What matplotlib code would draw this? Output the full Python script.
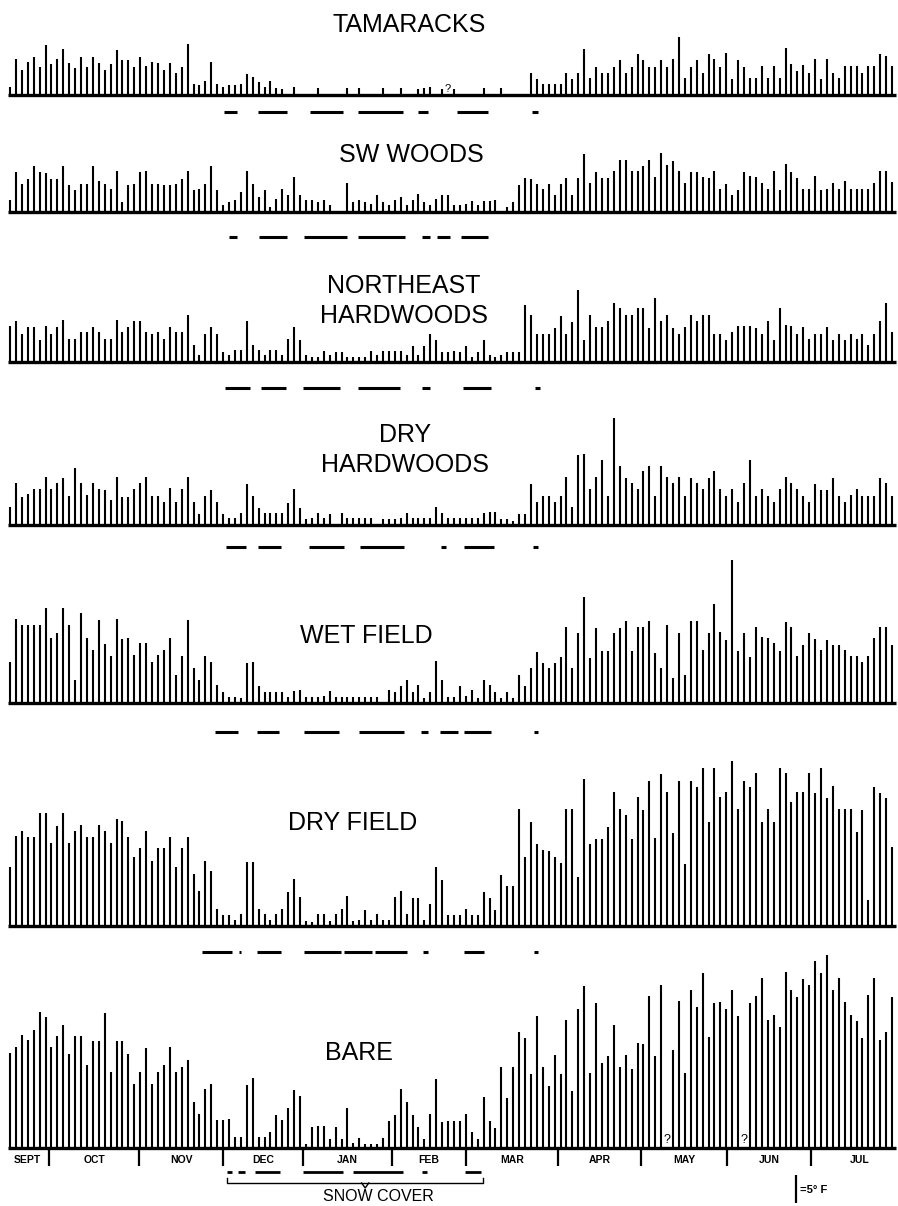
import numpy as np
import matplotlib
matplotlib.use('Agg')
import matplotlib.pyplot as plt

plt.rcParams['font.family'] = ['Liberation Sans', 'DejaVu Sans']

# bar heights in deg F, one bar per observation (150 per station)
tamaracks = [
    1.5, 6.5, 4.5, 6.0, 6.8, 5.0, 9.0, 5.5, 6.5, 8.2,
    5.8, 4.8, 6.8, 5.0, 6.8, 5.8, 4.5, 5.5, 8.0, 6.2,
    6.2, 5.0, 6.8, 5.2, 6.0, 5.8, 4.5, 5.8, 4.0, 5.0,
    9.1, 2.0, 1.8, 2.5, 6.0, 2.0, 1.5, 1.8, 1.8, 2.0,
    3.8, 3.2, 2.4, 1.5, 2.5, 1.2, 1.0, 0, 1.4, 0,
    0, 0, 1.3, 0, 0, 0, 0, 1.3, 0, 1.3,
    0, 0, 0, 1.3, 0, 0, 1.3, 0, 0, 1.0,
    1.2, 1.4, 0, 1.0, 0, 1.0, 0, 0, 0, 0,
    1.2, 0, 0, 1.2, 0, 0, 0, 0, 4.0, 2.8,
    1.9, 2.0, 2.0, 1.9, 4.0, 2.8, 4.0, 8.3, 3.0, 5.1,
    4.0, 4.0, 5.0, 6.2, 4.0, 5.0, 7.3, 6.2, 5.0, 5.0,
    6.2, 5.0, 6.4, 10.4, 3.0, 5.0, 6.2, 4.0, 7.3, 6.4,
    5.0, 7.6, 2.8, 6.2, 5.0, 3.0, 3.0, 5.2, 3.0, 5.2,
    3.0, 8.5, 5.6, 4.3, 5.4, 4.0, 6.4, 2.8, 6.4, 4.0,
    3.1, 5.2, 5.2, 5.2, 4.0, 5.2, 5.2, 7.4, 7.0, 5.2]

sw_woods = [
    2.1, 7.1, 5.1, 6.0, 8.2, 7.1, 7.0, 6.0, 6.0, 8.2,
    4.8, 3.9, 5.1, 5.1, 8.2, 5.6, 5.1, 4.2, 7.3, 1.8,
    4.8, 5.1, 7.1, 7.3, 5.1, 5.1, 4.8, 4.8, 5.1, 6.0,
    7.3, 3.9, 4.2, 5.1, 8.3, 4.0, 1.2, 1.8, 2.1, 3.6,
    7.3, 5.1, 2.7, 4.0, 0.9, 2.4, 4.2, 3.0, 6.3, 3.0,
    2.1, 2.1, 1.8, 2.1, 1.2, 0, 0, 5.2, 1.8, 2.1,
    1.8, 1.5, 3.0, 1.8, 1.2, 2.1, 2.7, 1.2, 2.1, 3.3,
    1.8, 1.2, 2.4, 3.0, 3.0, 1.2, 1.2, 1.5, 2.0, 1.2,
    2.0, 2.0, 2.1, 0, 0.9, 1.8, 4.9, 6.1, 6.0, 5.1,
    4.2, 5.1, 3.1, 5.1, 6.1, 3.0, 6.1, 10.4, 5.2, 7.1,
    6.1, 6.1, 7.3, 9.3, 9.3, 7.3, 7.3, 8.3, 9.3, 6.2,
    10.5, 8.5, 9.2, 7.3, 5.2, 7.1, 7.1, 6.2, 6.1, 7.3,
    4.2, 5.1, 3.0, 4.0, 7.1, 6.4, 6.2, 5.2, 4.2, 7.3,
    4.0, 8.6, 7.1, 6.1, 4.2, 4.2, 6.4, 4.0, 4.2, 5.2,
    4.2, 5.5, 4.2, 4.2, 4.2, 4.2, 5.2, 7.3, 7.3, 5.4]

ne_hardwoods = [
    6.5, 7.3, 5.1, 6.3, 6.3, 3.9, 6.5, 5.1, 6.3, 7.5,
    4.2, 4.2, 5.3, 5.3, 6.3, 5.3, 4.2, 4.2, 7.5, 5.3,
    6.3, 7.3, 7.3, 5.3, 5.1, 5.3, 4.2, 6.3, 5.3, 5.3,
    8.4, 3.0, 1.2, 5.1, 6.3, 5.1, 1.8, 1.2, 2.1, 2.1,
    7.3, 3.0, 2.1, 1.2, 2.1, 2.1, 1.2, 4.2, 6.3, 3.9,
    1.2, 0.9, 0.9, 1.9, 1.2, 1.8, 1.8, 0.9, 0.9, 0.9,
    0.9, 1.9, 1.2, 1.9, 1.9, 1.9, 1.9, 1.2, 2.9, 1.2,
    2.9, 5.1, 3.9, 1.8, 1.8, 1.9, 1.8, 2.9, 0.9, 1.8,
    3.9, 1.2, 0.9, 1.2, 1.8, 1.8, 1.8, 10.3, 8.5, 5.1,
    5.1, 5.1, 6.1, 8.2, 5.1, 7.2, 12.9, 3.9, 8.4, 6.3,
    6.3, 7.3, 10.5, 9.6, 8.4, 8.5, 9.6, 9.6, 6.1, 11.5,
    7.3, 8.4, 6.1, 5.1, 6.3, 8.4, 7.3, 8.4, 8.4, 5.1,
    5.1, 3.9, 5.4, 6.5, 6.5, 6.5, 6.1, 5.1, 7.3, 3.9,
    9.6, 6.6, 6.5, 5.1, 6.3, 4.2, 5.1, 5.1, 6.3, 3.9,
    5.1, 3.9, 5.1, 4.2, 5.1, 3.1, 5.1, 7.3, 10.5, 5.3]

dry_hardwoods = [
    3.3, 7.6, 5.1, 5.6, 6.5, 6.5, 8.6, 6.5, 7.5, 8.5,
    5.2, 10.2, 7.5, 5.4, 7.5, 6.4, 6.3, 4.4, 8.6, 5.1,
    5.1, 6.4, 7.5, 8.6, 5.2, 5.2, 4.2, 6.6, 4.2, 6.4,
    8.6, 4.2, 2.0, 5.2, 6.3, 4.2, 2.0, 1.2, 1.2, 2.2,
    7.4, 5.2, 3.1, 2.1, 2.1, 2.1, 2.1, 4.0, 6.4, 3.0,
    1.0, 1.2, 2.1, 1.2, 2.0, 0, 2.2, 1.2, 1.2, 1.2,
    1.2, 1.2, 0, 1.0, 1.0, 1.0, 1.2, 2.1, 1.2, 1.2,
    1.2, 1.2, 3.3, 2.2, 1.2, 1.2, 1.2, 1.2, 1.2, 1.2,
    2.2, 2.4, 2.4, 1.0, 1.0, 0.7, 2.0, 2.0, 7.4, 4.2,
    5.2, 5.2, 4.2, 5.2, 8.6, 3.3, 12.6, 12.8, 6.4, 8.6,
    11.7, 5.2, 19.2, 10.6, 8.4, 7.5, 6.4, 9.6, 10.6, 5.2,
    10.6, 8.6, 7.5, 8.6, 5.2, 8.4, 7.5, 6.4, 8.4, 9.6,
    6.4, 5.2, 6.4, 4.2, 7.5, 11.7, 5.2, 6.4, 5.2, 4.2,
    6.4, 8.6, 7.5, 6.4, 5.2, 4.2, 7.4, 6.3, 6.3, 8.4,
    5.2, 4.2, 5.4, 6.5, 5.2, 5.2, 5.2, 8.4, 7.5, 5.2]

wet_field = [
    7.4, 15.0, 14.0, 14.0, 14.0, 14.0, 17.1, 11.6, 12.6, 17.1,
    14.0, 4.1, 16.2, 11.6, 9.5, 14.9, 10.5, 8.4, 15.0, 11.4,
    11.6, 8.6, 10.7, 10.8, 7.4, 8.6, 9.5, 11.7, 5.1, 8.4,
    14.9, 6.3, 4.2, 8.4, 7.4, 3.2, 2.0, 1.1, 1.1, 0.9,
    7.2, 7.4, 3.0, 2.0, 2.0, 2.0, 2.0, 1.1, 2.2, 2.4,
    1.1, 1.1, 1.1, 1.2, 2.1, 1.1, 1.1, 1.1, 1.1, 1.1,
    1.1, 1.1, 1.1, 0, 2.3, 2.0, 3.0, 4.1, 2.0, 3.2,
    0.9, 2.0, 7.5, 4.1, 1.1, 1.1, 3.0, 1.2, 2.3, 0.9,
    4.1, 3.2, 2.0, 0.9, 2.0, 0.9, 5.1, 3.0, 6.2, 9.2,
    7.2, 6.2, 7.2, 8.3, 13.7, 6.2, 12.6, 19.0, 8.1, 13.5,
    9.3, 9.3, 12.6, 13.5, 14.7, 9.3, 13.7, 13.7, 14.7, 9.0,
    6.2, 14.0, 4.4, 12.5, 5.1, 14.7, 14.7, 9.5, 12.6, 17.8,
    12.8, 11.3, 25.6, 9.3, 12.6, 8.3, 13.7, 11.9, 11.6, 10.7,
    9.3, 14.6, 13.7, 8.4, 10.4, 12.6, 11.4, 9.5, 11.3, 10.4,
    10.4, 9.5, 8.4, 8.4, 7.4, 8.4, 11.6, 13.7, 13.7, 10.4]

dry_field = [
    10.6, 16.1, 17.1, 16.0, 15.9, 20.2, 20.2, 14.8, 17.9, 20.2,
    14.9, 17.1, 18.1, 15.9, 15.9, 18.1, 17.1, 14.8, 19.1, 18.9,
    15.9, 12.4, 13.9, 17.1, 11.7, 13.9, 13.9, 16.0, 10.6, 13.9,
    15.9, 9.4, 6.2, 11.7, 9.8, 3.1, 1.9, 1.9, 1.0, 2.2,
    11.5, 11.5, 3.1, 2.2, 1.0, 2.1, 3.1, 6.1, 8.5, 5.2,
    0.9, 0.7, 2.1, 2.1, 0.9, 2.1, 3.1, 5.3, 0.9, 1.1,
    2.9, 1.0, 2.1, 1.0, 1.1, 5.2, 6.2, 2.1, 5.0, 5.0,
    1.0, 4.0, 10.5, 8.2, 1.9, 1.9, 1.9, 3.1, 1.9, 1.9,
    6.1, 5.0, 2.9, 9.1, 7.1, 7.1, 20.9, 12.4, 18.7, 14.7,
    13.7, 13.5, 12.4, 11.3, 20.9, 20.9, 8.8, 26.3, 14.7, 15.6,
    15.6, 17.8, 24.1, 20.9, 19.9, 15.6, 23.1, 20.8, 26.0, 15.7,
    27.2, 24.1, 16.7, 26.0, 11.2, 26.0, 25.0, 28.4, 18.7, 28.4,
    23.2, 24.1, 29.5, 20.9, 26.0, 25.0, 27.4, 18.7, 20.9, 18.7,
    28.3, 27.5, 22.3, 24.1, 24.1, 27.4, 23.9, 28.4, 22.9, 25.1,
    20.9, 20.9, 20.9, 16.9, 20.8, 4.7, 24.9, 23.8, 22.9, 14.2]

bare = [
    17.1, 18.1, 20.3, 19.3, 21.1, 24.4, 23.5, 18.1, 20.1, 22.1,
    16.9, 20.1, 20.1, 14.9, 19.1, 19.1, 24.2, 13.7, 19.1, 19.1,
    16.9, 11.5, 13.6, 17.9, 11.5, 13.7, 14.8, 18.1, 13.6, 14.6,
    15.8, 8.3, 6.1, 10.5, 11.5, 5.1, 5.1, 5.2, 1.9, 1.9,
    11.3, 12.5, 1.9, 1.9, 2.8, 6.0, 5.1, 7.1, 10.4, 9.3,
    0.7, 3.7, 3.9, 3.9, 1.7, 3.7, 1.7, 7.1, 0.9, 1.8,
    0.8, 0.8, 0.8, 1.8, 4.9, 6.0, 10.5, 8.2, 6.0, 3.7,
    1.6, 6.1, 12.4, 4.7, 4.8, 4.9, 4.9, 6.1, 2.8, 1.7,
    9.2, 4.9, 3.6, 14.5, 9.0, 14.5, 20.8, 19.8, 13.3, 23.7,
    14.5, 11.2, 16.6, 13.3, 22.9, 10.2, 25.0, 29.0, 13.5, 25.9,
    15.3, 16.5, 22.0, 14.5, 16.6, 14.2, 18.9, 18.7, 27.2, 16.4,
    29.3, 0, 17.6, 26.3, 13.5, 28.3, 25.3, 31.4, 19.9, 26.0,
    26.2, 25.0, 28.3, 23.6, 0, 26.0, 27.2, 30.4, 22.9, 23.8,
    21.7, 31.6, 28.4, 27.1, 30.2, 29.2, 33.5, 31.3, 34.6, 28.4,
    30.5, 26.2, 23.9, 22.7, 19.7, 27.4, 30.5, 19.3, 20.8, 27.1]

# missing readings marked "?"
tam_unknown = [74]
bare_unknown = [111, 124]

# snow-cover periods (in bar-index units) drawn under each station
snow_tam = [(36.1, 38.3), (41.9, 46.8), (50.7, 56.3), (58.8, 66.4), (68.9, 70.6), (75.5, 80.7), (88.2, 89.2)]
snow_sw = [(37.0, 38.3), (42.1, 46.8), (49.7, 56.9), (58.8, 66.7), (69.6, 70.9), (72.1, 74.3), (76.2, 80.7)]
snow_ne = [(36.3, 40.5), (42.4, 46.7), (49.5, 55.8), (58.8, 65.8), (69.6, 70.9), (76.5, 81.2), (88.7, 89.6)]
snow_dhw = [(36.5, 39.9), (41.9, 45.8), (50.5, 56.4), (59.1, 66.6), (72.8, 73.6), (76.7, 81.8), (88.3, 89.2)]
snow_wet = [(34.6, 38.5), (41.7, 45.4), (49.7, 55.6), (59.0, 66.6), (69.4, 70.6), (72.6, 75.7), (76.7, 81.3), (88.5, 89.2)]
snow_dry = [(32.4, 37.5), (38.6, 39.1), (41.7, 45.8), (49.7, 55.9), (56.4, 61.1), (61.7, 67.1), (69.8, 70.6), (76.7, 80.1), (88.5, 89.2)]
snow_axis = [(36.7, 37.5), (38.5, 39.7), (41.4, 45.6), (49.5, 56.3), (57.9, 66.4), (69.6, 70.4), (76.9, 79.6)]

months = ['SEPT', 'OCT', 'NOV', 'DEC', 'JAN', 'FEB', 'MAR', 'APR', 'MAY', 'JUN', 'JUL']
month_edges = [6.6, 21.8, 36.0, 49.5, 64.5, 77.0, 92.6, 106.6, 121.1, 135.3]

W, H = 898, 1206
PX_PER_F = 5.58      # vertical scale, pixels per deg F
PX_PER_BAR = 5.92    # horizontal spacing of bars
FIRST_BAR_PX = 10

fig = plt.figure(figsize=(W / 100, H / 100), dpi=100)


def add_panel(top, bottom, base):
    ax = fig.add_axes([0, 1 - bottom / H, 1, (bottom - top) / H])
    ax.set_xlim(-FIRST_BAR_PX / PX_PER_BAR, (W - FIRST_BAR_PX) / PX_PER_BAR)
    ax.set_ylim((base - bottom) / PX_PER_F, (base - top) / PX_PER_F)
    ax.axis('off')
    ax.patch.set_visible(False)
    return ax


def yoff(base, y_px):
    return (base - y_px) / PX_PER_F


# values, title lines, title x, title baselines, baseline y, snow dash y, snow spans
panels = [
    (tamaracks, ['TAMARACKS'], 409, [32], 95, 112, snow_tam),
    (sw_woods, ['SW WOODS'], 411, [162], 212, 237, snow_sw),
    (ne_hardwoods, ['NORTHEAST', 'HARDWOODS'], 404, [293, 323], 362, 388, snow_ne),
    (dry_hardwoods, ['DRY', 'HARDWOODS'], 405, [442, 472], 525, 547, snow_dhw),
    (wet_field, ['WET FIELD'], 366, [643], 703, 732, snow_wet),
    (dry_field, ['DRY FIELD'], 353, [830], 926, 952, snow_dry),
    (bare, ['BARE'], 359, [1060], 1148, None, None),
]

axes = []
for values, title, tx, tys, base, dash, snow in panels:
    ax = add_panel(base - 220, min(base + 60, H), base)
    axes.append(ax)
    v = np.array(values, dtype=float)
    idx = np.arange(len(v))
    keep = v > 0
    ax.vlines(idx[keep], 0, v[keep], colors='black', lw=1.5, clip_on=False)
    ax.hlines(0, -0.35, 149.6, colors='black', lw=2.4)
    if snow is not None:
        yd = yoff(base, dash)
        ax.hlines([yd] * len(snow), [s for s, e in snow], [e for s, e in snow],
                  colors='black', lw=2.2)
    for line, ty in zip(title, tys):
        fig.text(tx / W, 1 - ty / H, line, ha='center', va='baseline',
                 fontsize=18, color='black')

# question marks for missing readings
ax_t = axes[0]
for i in tam_unknown:
    ax_t.text(i, 1.0, '?', ha='center', va='center', fontsize=8)

ax_b = axes[-1]
base_b = 1148
for i in bare_unknown:
    ax_b.text(i, 1.5, '?', ha='center', va='center', fontsize=9)

# month axis under the bare panel
ax_b.vlines(month_edges, yoff(base_b, 1166), 0, colors='black', lw=1.6)
bounds = [-0.6] + month_edges + [151.6]
for k, name in enumerate(months):
    mid = (bounds[k] + bounds[k + 1]) / 2
    ax_b.text(mid, yoff(base_b, 1160), name, ha='center', va='center',
              fontsize=7.5, fontweight='bold')

# snow cover dashes and bracket
ya = yoff(base_b, 1172)
ax_b.hlines([ya] * len(snow_axis), [s for s, e in snow_axis], [e for s, e in snow_axis],
            colors='black', lw=2.0)
yb, yb_end, yb_tip = yoff(base_b, 1183), yoff(base_b, 1178), yoff(base_b, 1188)
ax_b.plot([36.7, 36.7, 79.9, 79.9], [yb_end, yb, yb, yb_end], color='black', lw=1.0)
ax_b.plot([59.4, 60.0, 60.6], [yb, yb_tip, yb], color='black', lw=1.0)
ax_b.text(62.3, yoff(base_b, 1201), 'SNOW COVER', ha='center', va='baseline', fontsize=11.5)

# scale bar: 5 deg F
sx = 132.8
ax_b.vlines(sx, yoff(base_b, 1175) - 5, yoff(base_b, 1175), colors='black', lw=1.6)
ax_b.text(sx + 0.6, yoff(base_b, 1190), '=5° F', ha='left', va='center',
          fontsize=8, fontweight='bold')

fig.savefig('out.png', dpi=100)
